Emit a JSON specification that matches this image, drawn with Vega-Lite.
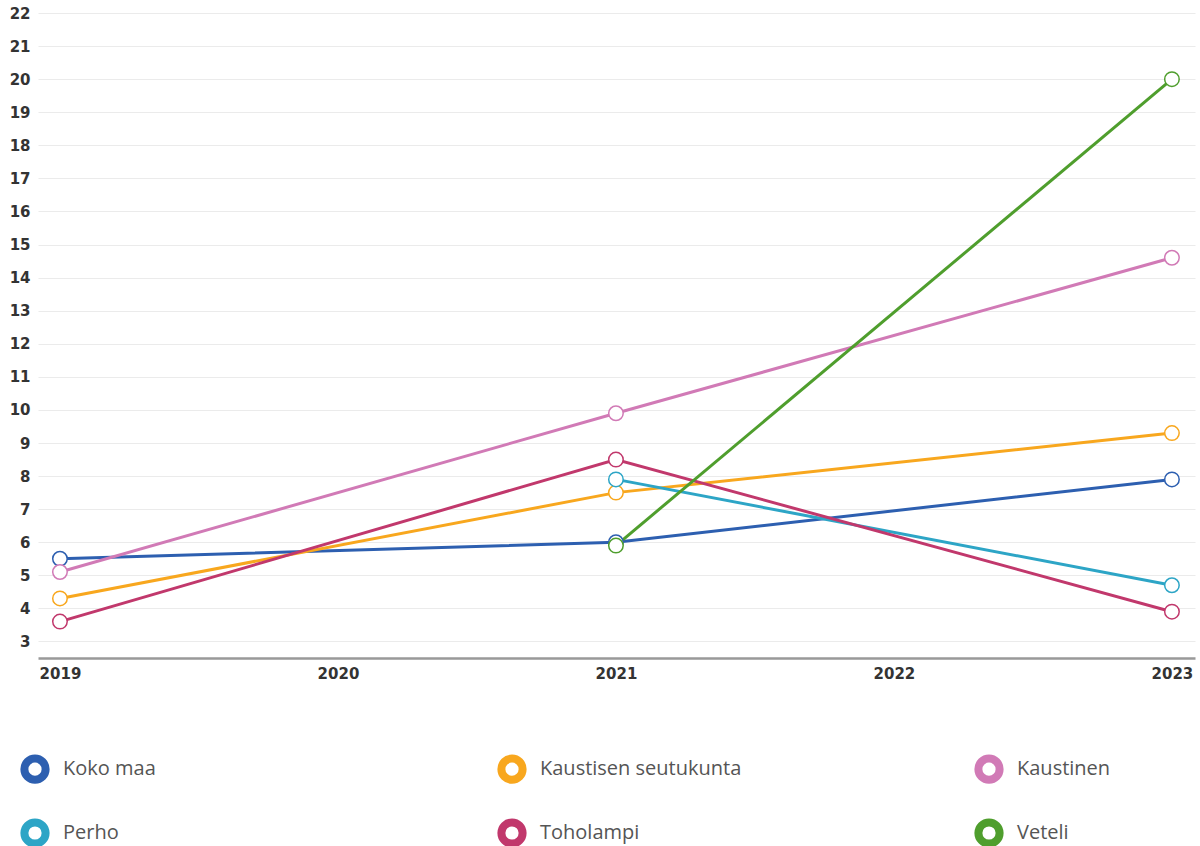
{
  "$schema": "https://vega.github.io/schema/vega-lite/v6.json",
  "autosize": "none",
  "width": 1157,
  "height": 645,
  "padding": {"left": 38, "top": 13, "right": 5, "bottom": 188},
  "background": "white",
  "config": {
    "view": {"stroke": null},
    "axis": {"labelFont": "DejaVu Sans", "labelFontWeight": "bold", "labelFontSize": 15, "labelColor": "#333333"}
  },
  "data": {
    "values": [
      {"year": 2019, "series": "Koko maa", "value": 5.5},
      {"year": 2021, "series": "Koko maa", "value": 6.0},
      {"year": 2023, "series": "Koko maa", "value": 7.9},
      {"year": 2019, "series": "Kaustisen seutukunta", "value": 4.3},
      {"year": 2021, "series": "Kaustisen seutukunta", "value": 7.5},
      {"year": 2023, "series": "Kaustisen seutukunta", "value": 9.3},
      {"year": 2019, "series": "Kaustinen", "value": 5.1},
      {"year": 2021, "series": "Kaustinen", "value": 9.9},
      {"year": 2023, "series": "Kaustinen", "value": 14.6},
      {"year": 2021, "series": "Perho", "value": 7.9},
      {"year": 2023, "series": "Perho", "value": 4.7},
      {"year": 2019, "series": "Toholampi", "value": 3.6},
      {"year": 2021, "series": "Toholampi", "value": 8.5},
      {"year": 2023, "series": "Toholampi", "value": 3.9},
      {"year": 2021, "series": "Veteli", "value": 5.9},
      {"year": 2023, "series": "Veteli", "value": 20.0}
    ]
  },
  "encoding": {
    "x": {
      "field": "year", "type": "quantitative",
      "scale": {"domain": [2018.921, 2023.083], "nice": false, "zero": false},
      "axis": {"title": null, "values": [2019, 2020, 2021, 2022, 2023], "format": "d", "grid": false, "ticks": false, "domainColor": "#999999", "domainWidth": 2.5, "labelPadding": 8}
    },
    "y": {
      "field": "value", "type": "quantitative",
      "scale": {"domain": [2.5, 22], "nice": false, "zero": false},
      "axis": {"title": null, "values": [3,4,5,6,7,8,9,10,11,12,13,14,15,16,17,18,19,20,21,22], "domain": false, "ticks": false, "gridColor": "#ebebeb", "gridWidth": 1, "labelPadding": 8}
    },
    "color": {
      "field": "series", "type": "nominal",
      "scale": {
        "domain": ["Koko maa", "Kaustisen seutukunta", "Kaustinen", "Perho", "Toholampi", "Veteli"],
        "range": ["#2d5fb0", "#f8a71e", "#d17ab6", "#2da5c6", "#c1386c", "#4f9e2d"]
      },
      "legend": {
        "title": null,
        "orient": "none",
        "direction": "horizontal",
        "legendX": -18,
        "legendY": 741,
        "columns": 3,
        "gridAlign": "all",
        "columnPadding": 220,
        "rowPadding": 10,
        "symbolType": "circle",
        "symbolSize": 450,
        "symbolStrokeWidth": 8,
        "symbolFillColor": "white",
        "labelFont": "Open Sans",
        "labelFontSize": 20,
        "labelColor": "#555555",
        "labelOffset": 13,
        "labelLimit": 400
      }
    }
  },
  "layer": [
    {"mark": {"type": "line", "strokeWidth": 3}},
    {"mark": {"type": "point", "filled": false, "fill": "white", "fillOpacity": 1, "size": 210, "strokeWidth": 1.5, "opacity": 1}}
  ]
}
